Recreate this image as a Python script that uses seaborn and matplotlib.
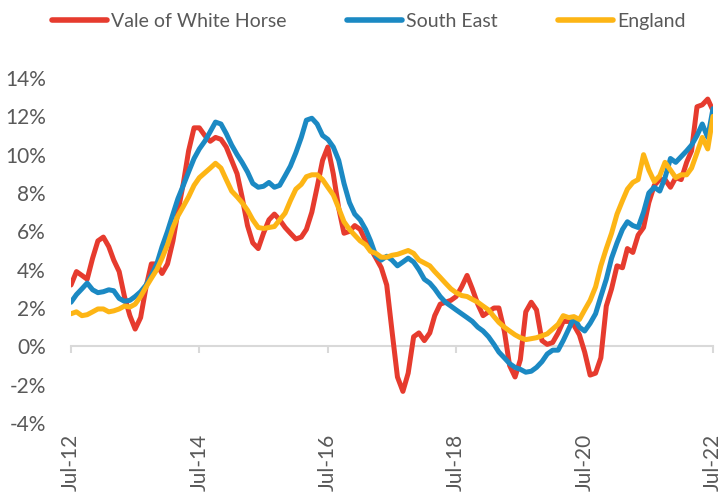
import pandas as pd
import matplotlib.pyplot as plt
import seaborn as sns

# Monthly growth rates, Jul-12 .. Jul-22 (%)
months = pd.date_range('2012-07-01', '2022-07-01', freq='MS')

vale = [3.2, 3.9, 3.7, 3.5, 4.6, 5.5, 5.7, 5.2, 4.5, 3.9,
        2.6, 1.6, 0.9, 1.5, 3.1, 4.3, 4.3, 3.8, 4.3, 5.5,
        7.0, 8.5, 10.2, 11.4, 11.4, 11.0, 10.7, 10.9, 10.8, 10.4,
        9.7, 9.0, 7.8, 6.3, 5.4, 5.1, 5.9, 6.6, 6.9, 6.6,
        6.2, 5.9, 5.6, 5.7, 6.1, 7.0, 8.3, 9.7, 10.4, 9.0,
        7.2, 5.9, 6.0, 6.3, 6.1, 5.5, 5.1, 4.6, 4.1, 3.2,
        0.8, -1.6, -2.35, -1.4, 0.5, 0.7, 0.3, 0.7, 1.6, 2.2,
        2.3, 2.4, 2.6, 3.1, 3.7, 3.0, 2.2, 1.6, 1.8, 2.0,
        2.0, 0.8, -1.0, -1.6, -0.7, 1.8, 2.3, 1.9, 0.3, 0.1,
        0.2, 0.7, 1.3, 1.3, 1.1, 0.6, -0.3, -1.5, -1.4, -0.6,
        2.1, 3.0, 4.2, 4.1, 5.1, 4.9, 5.8, 6.2, 7.5, 8.4,
        8.7, 8.7, 8.3, 8.8, 8.7, 9.6, 10.2, 12.5, 12.6, 12.9,
        12.3]

south_east = [2.3, 2.7, 3.0, 3.3, 2.95, 2.8, 2.85, 2.95, 2.9, 2.5,
              2.35, 2.4, 2.6, 2.85, 3.2, 3.7, 4.3, 5.2, 6.0, 6.9,
              7.7, 8.4, 9.1, 9.8, 10.3, 10.7, 11.2, 11.7, 11.6, 11.1,
              10.5, 10.0, 9.6, 9.1, 8.5, 8.3, 8.35, 8.55, 8.3, 8.4,
              8.9, 9.4, 10.1, 10.9, 11.8, 11.9, 11.6, 11.0, 10.8, 10.4,
              9.7, 8.5, 7.5, 6.9, 6.6, 6.1, 5.5, 4.7, 4.5, 4.7,
              4.5, 4.2, 4.4, 4.6, 4.4, 4.0, 3.5, 3.3, 3.0, 2.6,
              2.3, 2.1, 1.9, 1.7, 1.5, 1.3, 1.0, 0.8, 0.5, 0.1,
              -0.3, -0.6, -0.9, -1.1, -1.2, -1.35, -1.3, -1.1, -0.8, -0.4,
              -0.2, -0.2, 0.3, 0.9, 1.5, 1.0, 0.8, 1.2, 1.7, 2.6,
              3.5, 4.6, 5.4, 6.1, 6.5, 6.3, 6.2, 7.0, 8.0, 8.3,
              8.1, 8.8, 9.8, 9.6, 9.9, 10.2, 10.5, 11.0, 11.6, 10.9,
              12.4]

england = [1.7, 1.8, 1.6, 1.65, 1.8, 1.95, 1.95, 1.8, 1.85, 1.95,
           2.1, 2.05, 2.2, 2.6, 3.1, 3.55, 4.0, 4.6, 5.3, 6.2,
           6.8, 7.3, 7.8, 8.4, 8.8, 9.05, 9.3, 9.55, 9.3, 8.7,
           8.1, 7.8, 7.5, 7.1, 6.6, 6.2, 6.15, 6.2, 6.25, 6.6,
           6.95, 7.6, 8.2, 8.45, 8.85, 8.95, 8.95, 8.7, 8.3, 7.9,
           7.2, 6.5, 6.1, 5.8, 5.5, 5.3, 4.95, 4.85, 4.65, 4.65,
           4.75, 4.8, 4.9, 5.0, 4.85, 4.5, 4.35, 4.2, 3.9, 3.6,
           3.3, 3.0, 2.8, 2.65, 2.6, 2.45, 2.3, 2.1, 1.9, 1.55,
           1.25, 1.0, 0.8, 0.6, 0.45, 0.35, 0.4, 0.45, 0.55, 0.65,
           0.9, 1.15, 1.6, 1.5, 1.55, 1.4, 1.9, 2.4, 3.1, 4.2,
           5.1, 5.9, 6.9, 7.6, 8.2, 8.55, 8.7, 10.0, 9.2, 8.6,
           8.9, 9.6, 9.2, 8.8, 8.95, 8.95, 9.3, 10.1, 10.9, 10.3,
           12.0]

series_names = ['Vale of White Horse', 'South East', 'England']
colors = ['#E63B2E', '#1B89C3', '#FDB515']

tick_dates = pd.to_datetime(['2012-07-01', '2014-07-01', '2016-07-01',
                             '2018-07-01', '2020-07-01', '2022-07-01'])
tick_labels = ['Jul-12', 'Jul-14', 'Jul-16', 'Jul-18', 'Jul-20', 'Jul-22']
y_ticks = [-4, -2, 0, 2, 4, 6, 8, 10, 12, 14]
y_labels = ['-4%', '-2%', '0%', '2%', '4%', '6%', '8%', '10%', '12%', '14%']

# long-form table for seaborn
df = pd.concat([
    pd.DataFrame({'month': months, 'value': vals, 'area': name})
    for name, vals in zip(series_names, [vale, south_east, england])
])

sns.set_theme(style='white')
plt.rcParams['font.family'] = ['Lato', 'DejaVu Sans']
text_grey = '#595959'
axis_grey = '#D9D9D9'

fig = plt.figure(figsize=(7.23, 4.97), dpi=100)
ax = fig.add_axes([71 / 723, 1 - 423 / 497, (713 - 71) / 723, (423 - 78) / 497])

sns.lineplot(data=df, x='month', y='value', hue='area', hue_order=series_names,
             palette=dict(zip(series_names, colors)), linewidth=3.6, ax=ax,
             solid_capstyle='round')

ax.set_xlim(months[0], months[-1])
ax.set_ylim(-4, 14)
ax.set_yticks(y_ticks)
ax.set_yticklabels(y_labels)
ax.set_xticks(tick_dates)
ax.set_xticklabels(tick_labels)
ax.set_xlabel('')
ax.set_ylabel('')

# category axis sits on 0%, labels stay low
for side in ['left', 'right', 'top']:
    ax.spines[side].set_visible(False)
ax.spines['bottom'].set_position(('data', 0))
ax.spines['bottom'].set_color(axis_grey)
ax.spines['bottom'].set_linewidth(1.5)
ax.spines['bottom'].set_zorder(0)
ax.tick_params(axis='x', bottom=True, direction='out', length=5, width=1.5,
               color=axis_grey, pad=58, labelsize=15, labelcolor=text_grey,
               labelrotation=90)
for lbl in ax.get_xticklabels():
    lbl.set_va('top')
    lbl.set_ha('center')
ax.tick_params(axis='y', left=False, length=0, pad=18, labelsize=15,
               labelcolor=text_grey)

handles, labels = ax.get_legend_handles_labels()
ax.legend_.remove()
leg = fig.legend(handles, labels, loc='upper center', bbox_to_anchor=(0.51, 1.01),
                 ncol=3, frameon=False, handlelength=2.85, handletextpad=0.2,
                 columnspacing=3.1, fontsize=14)
for line in leg.get_lines():
    line.set_linewidth(4)
    line.set_solid_capstyle('round')
for t in leg.get_texts():
    t.set_color(text_grey)

fig.savefig('out.png', dpi=100)
